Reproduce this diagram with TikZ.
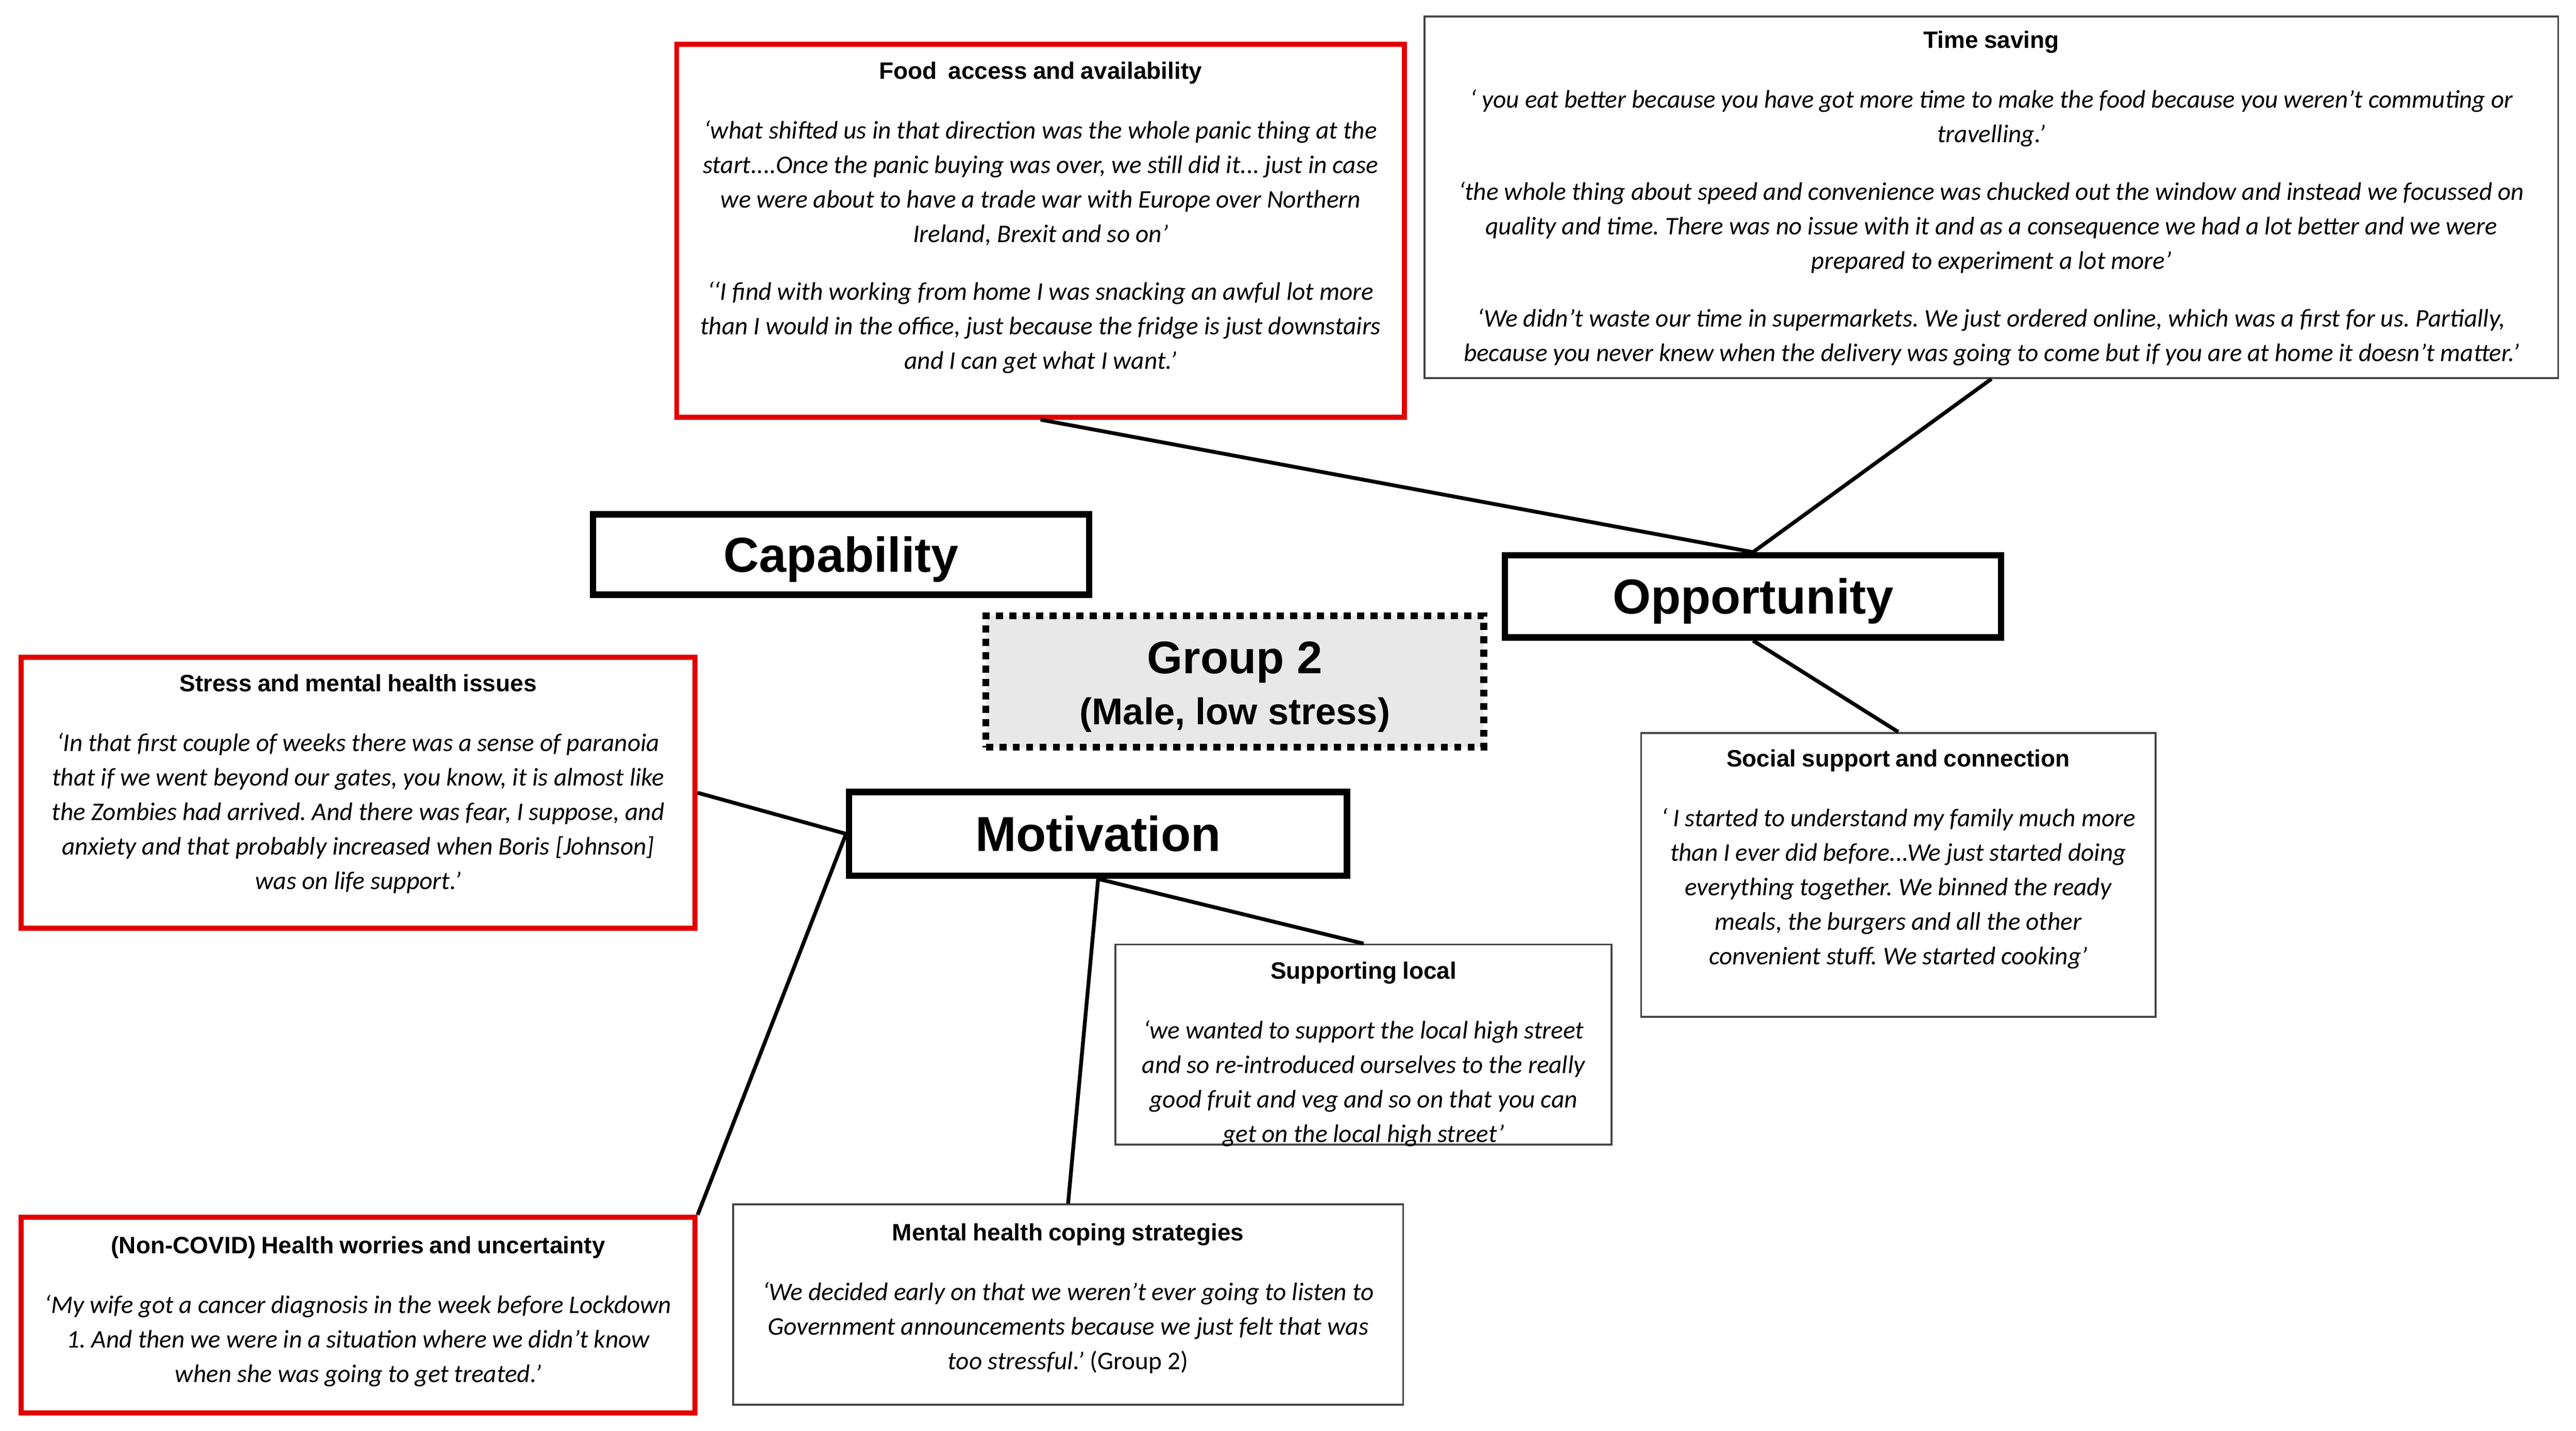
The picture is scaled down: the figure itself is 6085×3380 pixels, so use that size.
\documentclass[tikz,border=0pt]{standalone}
\usepackage{fontspec}
\setmainfont{Carlito}
\newfontfamily\hfont{Liberation Sans}
\definecolor{myred}{RGB}{226,0,0}
\definecolor{gfill}{RGB}{232,232,232}
\definecolor{thinc}{RGB}{70,70,70}
\newcommand\qhead[1]{{\hfont\bfseries\fontsize{14}{16}\selectfont #1\par}\vspace{14.8pt}}
\newcommand\qtext{\itshape\fontsize{15}{20.4}\selectfont}
\newcommand\pgap{\\[13.6pt]}
\frenchspacing
\begin{document}
\begin{tikzpicture}[x=0.25pt,y=-0.25pt,
  conn/.style={line width=2.25pt, draw=black},
  redbox/.style={draw=myred, line width=3pt, inner sep=0pt},
  thinbox/.style={draw=thinc, line width=1.1pt, inner sep=0pt},
  catbox/.style={draw=black, line width=3.75pt, inner sep=0pt,
    font=\hfont\bfseries\fontsize{29}{32}\selectfont, text height=20.8pt, text depth=0pt},
  qtxt/.style={anchor=north, inner sep=0pt, text width=#1},
  grptxt/.style={anchor=base, inner sep=0pt},
]
\useasboundingbox (0,0) rectangle (6085,3380);

% ---- quote boxes ----
\node[redbox, minimum width=429.75pt, minimum height=220.25pt] (food) at (2458,545) {};
\node[qtxt=425pt] (foodtxt) at ([yshift=-11.8pt]food.north) {\centering
\qhead{Food~ access and availability}\qtext
‘what shifted us in that direction was the whole panic thing at the\\
start....Once the panic buying was over, we still did it... just in case\\
we were about to have a trade war with Europe over Northern\\
Ireland, Brexit and so on’\pgap
‘‘I find with working from home I was snacking an awful lot more\\
than I would in the office, just because the fridge is just downstairs\\
and I can get what I want.’\par};

\node[thinbox, minimum width=669.5pt, minimum height=213.5pt] (time) at (4704,466) {};
\node[qtxt=665pt] (timetxt) at ([yshift=-9pt]time.north) {\centering
\qhead{Time saving}\qtext
‘ you eat better because you have got more time to make the food because you weren’t commuting or\\
travelling.’\pgap
‘the whole thing about speed and convenience was chucked out the window and instead we focussed on\\
quality and time. There was no issue with it and as a consequence we had a lot better and we were\\
prepared to experiment a lot more’\pgap
‘We didn’t waste our time in supermarkets. We just ordered online, which was a first for us. Partially,\\
because you never knew when the delivery was going to come but if you are at home it doesn’t matter.’\par};

\node[redbox, minimum width=398pt, minimum height=160.25pt] (stress) at (846,1873) {};
\node[qtxt=394pt] (stresstxt) at ([yshift=-11.5pt]stress.north) {\centering
\qhead{Stress and mental health issues}\qtext
‘In that first couple of weeks there was a sense of paranoia\\
that if we went beyond our gates, you know, it is almost like\\
the Zombies had arrived. And there was fear, I suppose, and\\
anxiety and that probably increased when Boris [Johnson]\\
was on life support.’\par};

\node[thinbox, minimum width=303.75pt, minimum height=167.75pt] (social) at (4484,2067) {};
\node[qtxt=300pt] (socialtxt) at ([yshift=-10.2pt]social.north) {\centering
\qhead{Social support and connection}\qtext
‘ I started to understand my family much more\\
than I ever did before...We just started doing\\
everything together. We binned the ready\\
meals, the burgers and all the other\\
convenient stuff. We started cooking’\par};

\node[thinbox, minimum width=293pt, minimum height=118.25pt] (local) at (3221,2468) {};
\node[qtxt=290pt] (localtxt) at ([yshift=-10.7pt]local.north) {\centering
\qhead{Supporting local}\qtext
‘we wanted to support the local high street\\
and so re-introduced ourselves to the really\\
good fruit and veg and so on that you can\\
get on the local high street’\par};

\node[thinbox, minimum width=395.75pt, minimum height=118.25pt] (mental) at (2523,3082) {};
\node[qtxt=392pt] (mentaltxt) at ([yshift=-11.6pt]mental.north) {\centering
\qhead{Mental health coping strategies}\qtext
‘We decided early on that we weren’t ever going to listen to\\
Government announcements because we just felt that was\\
too stressful.’ {\upshape (Group 2)}\par};

\node[redbox, minimum width=398pt, minimum height=115.5pt] (noncovid) at (846,3107) {};
\node[qtxt=394pt] (noncovidtxt) at ([yshift=-12.5pt]noncovid.north) {\centering
\qhead{(Non-COVID) Health worries and uncertainty}\qtext
‘My wife got a cancer diagnosis in the week before Lockdown\\
1. And then we were in a situation where we didn’t know\\
when she was going to get treated.’\par};

% ---- category boxes ----
\node[catbox, minimum width=293pt, minimum height=47.5pt] (cap) at (1987,1310) {Capability};
\node[catbox, minimum width=293pt, minimum height=48.5pt] (opp) at (4141,1409) {Opportunity};
\node[catbox, minimum width=294pt, minimum height=49.5pt] (mot) at (2594,1970) {Motivation};

\node[draw=black, line width=4pt, dash pattern=on 4.2pt off 3.7pt, fill=gfill,
  inner sep=0pt, minimum width=294pt, minimum height=77.75pt] (grp) at (2917,1610) {};
\node[grptxt, font=\hfont\bfseries\fontsize{27}{30}\selectfont] (grpa) at (2917,1591) {Group 2};
\node[grptxt, font=\hfont\bfseries\fontsize{22}{26}\selectfont] (grpb) at (2917,1712) {(Male, low stress)};

% ---- connectors ----
\draw[conn] (food.south) -- (opp.north);
\draw[conn] (time.south) -- (opp.north);
\draw[conn] (opp.south) -- (social.north);
\draw[conn] (stress.east) -- (mot.west);
\draw[conn] (noncovid.north east) -- (mot.west);
\draw[conn] (mot.south) -- (local.north);
\draw[conn] (mot.south) -- (mental.north);
\end{tikzpicture}
\end{document}
